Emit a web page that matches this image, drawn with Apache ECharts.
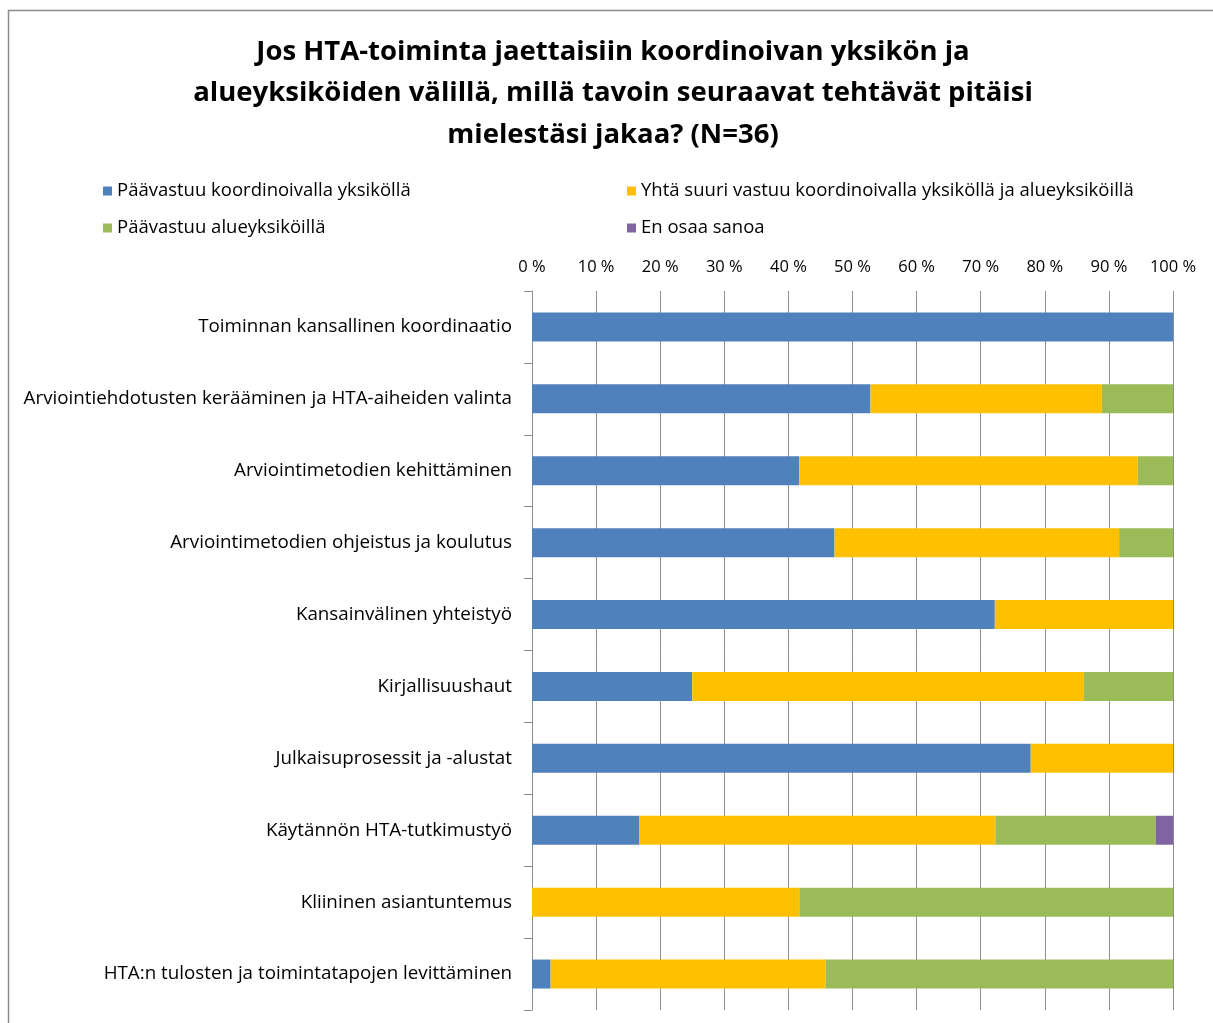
<!DOCTYPE html>
<html>
<head>
<meta charset="utf-8">
<script src="https://cdn.jsdelivr.net/npm/echarts@6/dist/echarts.min.js"></script>
<style>
  html, body { margin: 0; padding: 0; background: #fff; }
  #chart { width: 1213px; height: 1023px; }
</style>
</head>
<body>
<div id="chart"></div>
<script>
// kategoriat (ylhäältä alas)
var categories = [
  'Toiminnan kansallinen koordinaatio',
  'Arviointiehdotusten kerääminen ja HTA-aiheiden valinta',
  'Arviointimetodien kehittäminen',
  'Arviointimetodien ohjeistus ja koulutus',
  'Kansainvälinen yhteistyö',
  'Kirjallisuushaut',
  'Julkaisuprosessit ja -alustat',
  'Käytännön HTA-tutkimustyö',
  'Kliininen asiantuntemus',
  'HTA:n tulosten ja toimintatapojen levittäminen'
]
var seriesNames = [
  'Päävastuu koordinoivalla yksiköllä',
  'Yhtä suuri vastuu koordinoivalla yksiköllä ja alueyksiköillä',
  'Päävastuu alueyksiköillä',
  'En osaa sanoa'
]
// osuudet prosentteina
var koordinoiva = [100, 52.8, 41.7, 47.2, 72.2, 25.0, 77.8, 16.7, 0, 2.9]
var yhtaSuuri = [0, 36.1, 52.8, 44.4, 27.8, 61.1, 22.2, 55.6, 41.7, 42.9]
var alueyksikot = [0, 11.1, 5.5, 8.4, 0, 13.9, 0, 25.0, 58.3, 54.2]
var eiOsaa = [0, 0, 0, 0, 0, 0, 0, 2.7, 0, 0]
var tickValues = [0, 10, 20, 30, 40, 50, 60, 70, 80, 90, 100]

var colors = ['#4F81BD', '#FFC000', '#9BBB59', '#8064A2']
var font = 'Open Sans'

var chart = echarts.init(document.getElementById('chart'))

function makeSeries(name, data, color) {
  return {
    name: name,
    type: 'bar',
    stack: 'total',
    barWidth: 29,
    itemStyle: { color: color },
    data: data,
    animation: false
  }
}

var legendText = { fontFamily: font, fontSize: 18.5, color: '#000', lineHeight: 22 }

chart.setOption({
  title: {
    text: 'Jos HTA-toiminta jaettaisiin koordinoivan yksikön ja\nalueyksiköiden välillä, millä tavoin seuraavat tehtävät pitäisi\nmielestäsi jakaa? (N=36)',
    left: 608,
    top: 26,
    textAlign: 'center',
    textStyle: {
      fontFamily: font,
      fontSize: 27.5,
      fontWeight: 'bold',
      color: '#000',
      lineHeight: 41.5
    }
  },
  legend: [{
    data: [seriesNames[0], seriesNames[2]],
    orient: 'vertical',
    left: 98,
    top: 175,
    itemGap: 15,
    itemWidth: 9,
    itemHeight: 9,
    icon: 'rect',
    textStyle: legendText
  }, {
    data: [seriesNames[1], seriesNames[3]],
    orient: 'vertical',
    left: 622,
    top: 175,
    itemGap: 15,
    itemWidth: 9,
    itemHeight: 9,
    icon: 'rect',
    textStyle: legendText
  }],
  graphic: [{
    type: 'rect',
    shape: { x: 8.5, y: 10.5, width: 1300, height: 1100 },
    style: { fill: 'none', stroke: '#8a8a8a', lineWidth: 1.5 },
    silent: true
  }],
  grid: {
    left: 532,
    right: 40,
    top: 291,
    bottom: 13
  },
  xAxis: {
    type: 'value',
    position: 'top',
    min: tickValues[0],
    max: tickValues[tickValues.length - 1],
    interval: 10,
    axisLine: { show: false },
    axisTick: { show: false },
    axisLabel: {
      formatter: '{value} %',
      fontFamily: font,
      fontSize: 16.5,
      color: '#000',
      margin: 15
    },
    splitLine: { show: true, lineStyle: { color: '#8c8c8c', width: 1 } }
  },
  yAxis: {
    type: 'category',
    inverse: true,
    data: categories,
    axisLine: { show: true, lineStyle: { color: '#8c8c8c', width: 1 } },
    axisTick: { show: true, length: 8, lineStyle: { color: '#8c8c8c' } },
    axisLabel: {
      fontFamily: font,
      fontSize: 18.8,
      color: '#000',
      margin: 20
    }
  },
  series: [
    makeSeries(seriesNames[0], koordinoiva, colors[0]),
    makeSeries(seriesNames[1], yhtaSuuri, colors[1]),
    makeSeries(seriesNames[2], alueyksikot, colors[2]),
    makeSeries(seriesNames[3], eiOsaa, colors[3])
  ]
})
</script>
</body>
</html>
